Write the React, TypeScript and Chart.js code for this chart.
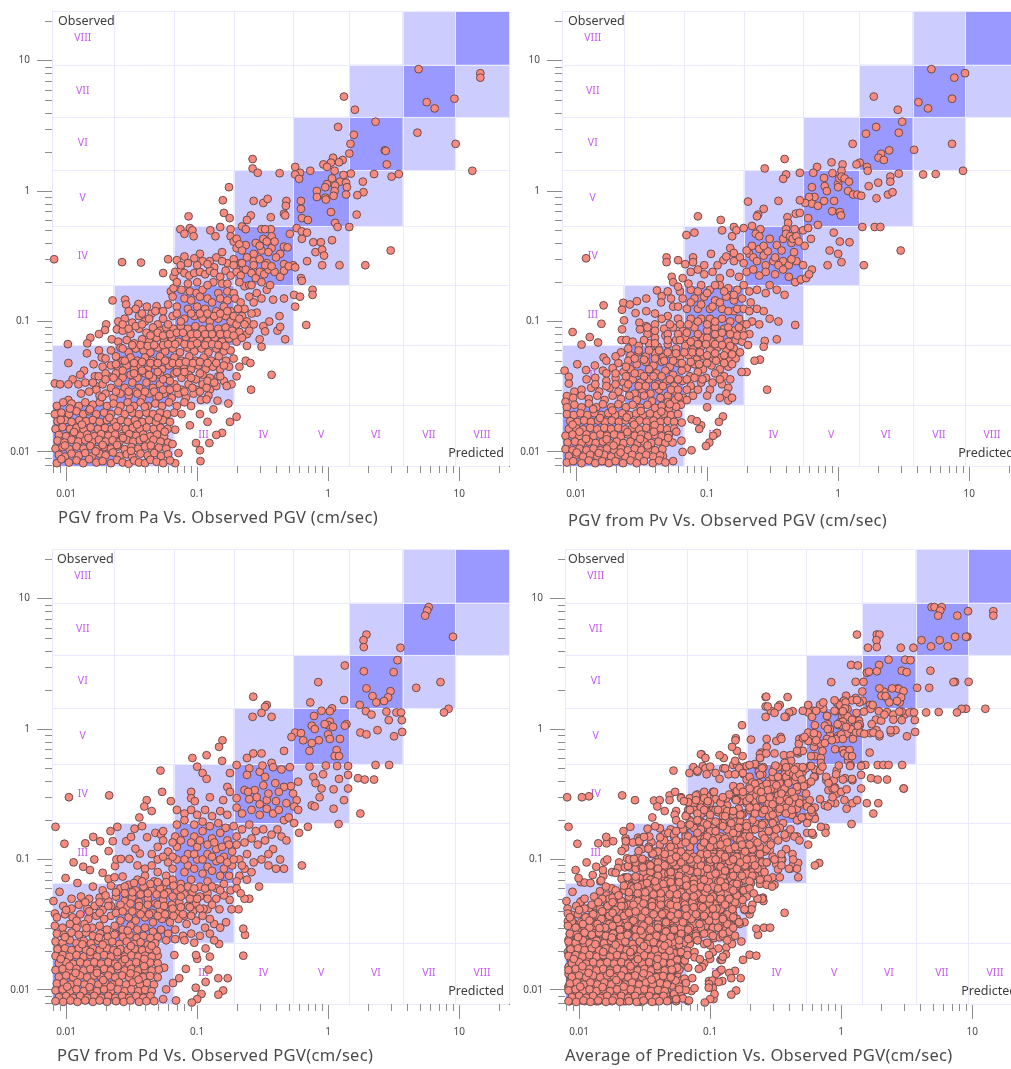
import React, { useEffect, useRef } from "react";
import { Chart, registerables } from "chart.js";
Chart.register(...registerables);

const bandEdges = [0.0078, 0.023, 0.066, 0.19, 0.54, 1.45, 3.7, 9.3, 24];
const romans = ["I", "II", "III", "IV", "V", "VI", "VII", "VIII"];
const majorTicks = [0.01, 0.1, 1, 10];
const minorTicks = [0.008, 0.009, 0.02, 0.03, 0.04, 0.05, 0.06, 0.07, 0.08, 0.09, 0.2, 0.3, 0.4, 0.5, 0.6, 0.7, 0.8, 0.9, 2, 3, 4, 5, 6, 7, 8, 9, 20];
const titles = ["PGV from Pa Vs. Observed PGV (cm/sec)", "PGV from Pv Vs. Observed PGV (cm/sec)", "PGV from Pd Vs. Observed PGV(cm/sec)", "Average of Prediction Vs. Observed PGV(cm/sec)"];

// predicted, observed pairs
const paPoints = [
4.9,8.6,14.5,8,14.5,7.4,1.32,5.3,5.65,4.8,6.5,4.3,9.2,5.1,1.6,4.2,2.3,3.4,1.19,3.1,1.57,2.7,4.8,2.8,9.4,2.3,1.48,2.3,2.7,2.05,2.75,2.03,1.45,1.94,2.8,1.6,12.6,1.43,1.09,1.8,1.29,1.73,1.21,1.66,1.05,1.65,.92,1.6,.98,1.53,.56,1.53,.265,1.76,.265,1.49,.29,1.38,.426,1.37,.73,1.43,.61,1.38,.56,1.34,.6,1.24,1.12,1.43,1.49,1.36,1.31,1.33,2.24,1.35,3.05,1.29,3.46,1.35,1.07,1.25,1.84,1.18,1.23,1.18,1.37,1.16,.98,1.13,1.13,1.1,1.39,1.07,.82,1,.95,1.07,1.12,1,1.37,.94,1.86,.98,1.67,.93,.82,.9,.95,.89,1.1,.92,.96,.86,
.175,1.07,.157,.85,.27,.84,.32,.81,.345,.87,.48,.84,.475,.77,.62,.84,.62,.73,.46,.67,1.05,.69,1.65,.66,.16,.68,.177,.62,.257,.65,.24,.6,.47,.65,.365,.63,.63,.62,.7,.6,.086,.64,1.13,.57,1.18,.53,1.45,.53,.0745,.51,.088,.52,.092,.5,.08,.47,.094,.45,.126,.5,.138,.45,.15,.53,.18,.51,.22,.535,.235,.51,.31,.51,.365,.51,.33,.51,.51,.47,.575,.52,.63,.49,.69,.48,.63,.43,.77,.405,.88,.405,1.07,.42,.8,.34,.9,.355,.93,.32,3,.35,.69,.29,.9,.27,1.22,.27,1.92,.27,
.0081,.3,.0267,.285,.0373,.283,.06,.3,.07,.295,.08,.315,.105,.33,.14,.31,.155,.34,.18,.45,.19,.41,.2,.365,.235,.385,.27,.33,.31,.35,.37,.365,.32,.43,.37,.45,.46,.375,.49,.37,.43,.33,.34,.28,.46,.275,.54,.27,.225,.255,.17,.28,.135,.26,.2,.43,.21,.39,.22,.35,.28,.4,.3,.38,.34,.41,.35,.34,.39,.41,.4,.31,.24,.31,.27,.29,.19,.3,.215,.28,.125,.29,.11,.29,.095,.305,.3,.3,
.055,.235,.066,.22,.068,.24,.075,.25,.08,.235,.087,.225,.095,.235,.105,.24,.115,.23,.125,.245,.135,.235,.15,.22,.165,.245,.18,.225,.2,.24,.215,.225,.235,.25,.26,.235,.28,.215,.3,.24,.325,.23,.35,.25,.39,.24,.43,.22,.46,.245,.62,.215,.63,.205,.27,.27,.33,.27,.37,.265,.22,.28,.19,.27,.155,.29,.12,.275,.1,.27,.085,.28,.5,.265,.56,.26,.075,.27,
.0226,.145,.0282,.147,.0287,.135,.0356,.136,.0413,.13,.049,.131,.063,.17,.066,.18,.076,.175,.088,.17,.099,.165,.11,.175,.133,.2,.145,.165,.17,.17,.19,.165,.23,.186,.25,.19,.285,.165,.34,.175,.38,.147,.46,.15,.55,.16,.61,.155,.76,.175,.76,.16,.56,.13,.425,.11,.355,.1,.68,.094,.47,.073,.41,.085,.43,.091,.32,.092,.33,.084,.3,.073,.31,.064,.24,.065,.23,.125,.285,.117,
.07,.2,.085,.195,.1,.2,.12,.19,.155,.195,.17,.195,.21,.2,.26,.19,.31,.2,.36,.19,.065,.155,.08,.15,.09,.145,.105,.155,.12,.15,.13,.14,.15,.15,.17,.145,.195,.15,.215,.14,.25,.155,.27,.14,.31,.15,.06,.135,.07,.13,.085,.125,.1,.13,.115,.125,.14,.12,.16,.13,.18,.12,.205,.125,.22,.11,.26,.115,.055,.12,.065,.11,.08,.105,.095,.11,.11,.105,.125,.1,.145,.105,.165,.11,.18,.1,.2,.095,.24,.1,.27,.095,
.0202,.095,.0198,.086,.0178,.08,.0153,.075,.0145,.068,.0103,.067,.0144,.057,.0104,.048,.0178,.06,.0187,.053,.0162,.047,.0137,.042,.0128,.039,.0112,.036,.0082,.0335,.009,.033,.0104,.033,.0124,.033,.014,.034,.0166,.038,.0177,.038,.0169,.032,.0104,.025,.0244,.087,.0223,.073,
.025,.1,.028,.105,.032,.098,.036,.11,.04,.1,.045,.115,.05,.095,.027,.085,.031,.08,.036,.088,.041,.082,.046,.09,.052,.085,.058,.09,.066,.088,.075,.092,.085,.088,.097,.092,.11,.087,.125,.09,.145,.088,.165,.09,.185,.085,.21,.083,.24,.08,.025,.07,.029,.072,.033,.068,.038,.073,.043,.07,.049,.075,.056,.071,.064,.075,.072,.07,.082,.076,.093,.072,.105,.075,.12,.071,.136,.075,.155,.07,.175,.074,.2,.07,
.022,.06,.026,.063,.03,.058,.034,.062,.039,.06,.044,.058,.05,.063,.057,.059,.065,.062,.074,.058,.084,.063,.095,.059,.108,.062,.122,.058,.14,.062,.16,.059,.18,.06,.02,.052,.024,.054,.027,.05,.031,.053,.035,.05,.04,.053,.045,.05,.052,.054,.059,.05,.067,.053,.076,.05,.087,.054,.098,.05,.112,.053,.128,.05,.146,.054,.166,.05,.19,.052,
.019,.045,.022,.046,.025,.043,.029,.046,.033,.043,.037,.046,.042,.043,.048,.046,.054,.043,.061,.046,.07,.043,.079,.046,.09,.043,.102,.046,.116,.043,.132,.045,.15,.043,.175,.045,.021,.038,.024,.04,.027,.037,.031,.039,.035,.037,.04,.04,.046,.037,.052,.039,.059,.037,.067,.04,.076,.037,.086,.039,.098,.036,.11,.039,.125,.037,.145,.038,.16,.035,.2,.038,.21,.045,.235,.05,.255,.048,.37,.039,.258,.03,
.017,.03,.019,.033,.022,.031,.025,.034,.028,.031,.032,.034,.036,.031,.041,.034,.046,.031,.052,.033,.059,.03,.067,.033,.076,.03,.086,.033,.098,.03,.11,.033,.125,.03,.14,.032,.183,.033,.168,.032,.013,.028,.015,.029,.018,.027,.02,.028,.023,.026,.026,.028,.03,.027,.034,.029,.038,.026,.043,.028,.049,.026,.056,.028,.064,.026,.072,.028,.082,.026,.094,.028,.107,.025,.122,.027,.143,.0247,.173,.0235,
.0085,.0225,.0095,.024,.011,.0235,.0125,.0225,.014,.024,.016,.023,.018,.024,.0205,.0225,.023,.0235,.026,.0225,.0295,.024,.033,.0225,.037,.024,.042,.0225,.048,.0235,.054,.0225,.061,.024,.07,.0225,.08,.024,.09,.0225,.105,.0195,.118,.0253,.133,.0212,.2,.0186,.178,.017,.12,.017,.155,.014,.14,.0135,.124,.0117,.105,.0103,.098,.0117,.106,.0085,.072,.0098,.068,.0082,.088,.016,
.0082,.0195,.0092,.02,.0105,.0195,.012,.0205,.0135,.0195,.015,.0205,.017,.0195,.0195,.02,.022,.0195,.025,.0205,.028,.0195,.032,.02,.036,.0195,.041,.02,.046,.0195,.052,.02,.059,.0195,.067,.02,.076,.0195,.0086,.0172,.0098,.0175,.011,.017,.0126,.0175,.0142,.0172,.016,.0176,.018,.017,.0205,.0175,.0232,.017,.0262,.0175,.0295,.017,.0335,.0175,.038,.017,.043,.0175,.0485,.017,.055,.0175,.062,.017,.0083,.015,.0094,.0155,.0107,.015,.012,.0153,.0136,.0149,.0154,.0154,.0175,.015,.0198,.0153,.0223,.015,.0252,.0154,.0285,.015,.0322,.0153,.0365,.015,.0412,.0154,.0465,.015,.0525,.0153,.0595,.015,.068,.0148,
.0088,.0135,.01,.0132,.0113,.0137,.0128,.0133,.0145,.0136,.0164,.0132,.0185,.0137,.021,.0133,.0237,.0136,.0268,.0132,.0303,.0137,.0343,.0133,.0388,.0136,.0438,.0132,.0495,.0136,.056,.0132,.0086,.0122,.0097,.0118,.011,.0124,.0124,.012,.014,.0123,.0158,.0119,.0178,.0124,.02,.012,.0226,.0123,.0255,.0119,.029,.0124,.0325,.012,.0365,.0123,.041,.0119,.0465,.0124,.0525,.012,.06,.0118,
.0083,.0106,.0094,.0109,.0106,.0105,.012,.011,.0136,.0106,.0153,.0111,.0172,.0105,.0195,.0109,.022,.0106,.0248,.011,.028,.0105,.0315,.0109,.0355,.0106,.04,.011,.045,.0105,.051,.0108,.058,.0106,.0088,.0095,.0098,.0092,.011,.0097,.0125,.0094,.014,.0098,.0158,.0093,.018,.0097,.02,.0094,.0228,.0099,.0256,.0093,.029,.0096,.032,.0092,.037,.0097,.042,.0094,.047,.0098,.053,.0093,.06,.0096,
.0085,.0082,.0092,.0088,.0105,.0083,.012,.0086,.0135,.0082,.015,.0088,.017,.0083,.019,.0085,.022,.0082,.0245,.0087,.027,.0083,.03,.0081,.033,.0086,.036,.0083,.04,.0082,.044,.0087,.049,.0084,.055,.0082,.062,.0086,
.03,.12,.034,.125,.038,.115,.043,.105,.048,.12,.055,.105,.06,.095,.07,.115,.075,.1,.09,.115,.105,.115,.12,.115,.135,.11,.15,.115,.17,.12,.19,.11,.21,.105,.25,.085,.23,.095,.027,.095,.03,.088,.034,.092,.038,.095,.044,.078,.05,.082,.055,.078,.062,.08,.07,.082,.078,.082,.09,.08,.1,.08,.115,.08,.13,.08,.15,.08,.17,.08,.19,.078,.22,.075,.027,.062,.032,.066,.037,.066,.042,.065,.047,.066,.055,.066,.06,.067,.068,.067,.08,.067,.09,.066,.1,.068,.115,.066,.13,.067,.145,.066,.165,.065,.024,.047,.028,.05,.033,.048,.038,.049,.044,.048,.05,.048,.057,.05,.065,.048,.073,.048,.082,.049,.093,.048,.105,.049,.12,.048,.14,.048,.16,.046,.02,.04,.023,.037,.027,.042,.033,.04,.038,.042,.043,.039,.05,.041,.055,.036,.062,.035,.07,.041,.08,.041,.09,.037,.105,.04,.12,.035,.135,.034,.15,.038,.016,.034,.02,.036,.024,.029,.03,.029,.035,.028,.04,.029,.047,.029,.055,.03,.062,.03,.07,.031,.08,.029,.092,.031,.105,.029,.118,.031,
.0091,.0176,.0115,.0142,.0148,.0128,.019,.0113,.0241,.0157,.0307,.0214,.0392,.0128,.0501,.0183,.0098,.0112,.0132,.0162,.0168,.0101,.0214,.0183,.0272,.0128,.0348,.0162,.0443,.0112,.0566,.0143,.0107,.0215,.0152,.0212,.0188,.0263,.0245,.0113,.0313,.0102,.0398,.0222,.0512,.0267,.0649,.0115];

const pvPoints = [
5.15,8.6,7.7,7.4,9.3,8,1.87,5.3,2.85,4.2,4.1,4.8,4.85,4.3,7.4,5.1,3.08,3.4,1.95,3.1,1.63,2.75,2.9,2.8,1.29,2.3,7.4,2.3,3.8,2.07,2.45,2.05,2.13,1.93,2.03,1.8,2.23,1.73,1.66,1.53,1.46,1.65,1.38,1.6,.89,1.66,1.08,1.6,.69,1.53,1.06,1.43,.645,1.38,.51,1.38,.39,1.76,.275,1.49,.4,1.34,.38,1.24,.905,1.37,1.68,1.43,2.9,1.36,2.5,1.29,2.5,1.18,4.45,1.34,5.55,1.35,8.97,1.43,2.02,1.16,1.71,1.09,.78,1.26,.63,1.07,.79,1.09,.82,1,1,1.14,1.02,1.25,1.06,1.29,1.12,1.25,1.21,1.18,1,1.07,1.19,1,1.3,.94,1.4,.94,1.5,.92,1.96,.88,2.4,.94,2.6,.98,
.66,.9,.6,.9,.63,.8,.56,.81,.51,.85,.7,.77,.78,.84,.93,.84,.205,.83,.35,.84,.27,.73,.245,.66,.24,.64,.475,.67,.51,.68,.9,.7,1.03,.69,1.05,.65,.41,.63,.59,.62,.415,.57,.7,.55,.085,.64,.127,.6,1.53,.53,1.9,.53,2.1,.53,.0695,.46,.08,.48,.13,.5,.16,.53,.167,.5,.19,.52,.22,.54,.255,.51,.155,.45,.235,.47,.25,.45,.4,.51,.465,.51,.54,.5,.59,.52,.62,.43,.555,.38,.38,.43,.44,.4,.925,.48,1.03,.41,1.22,.405,.86,.35,1,.33,1.06,.285,.83,.27,1.57,.27,3,.35,
.15,.365,.3,.43,.34,.385,.37,.35,.46,.34,.0119,.305,.049,.31,.049,.285,.06,.295,.068,.275,.078,.31,.078,.285,.107,.33,.133,.295,.14,.315,.16,.335,.178,.31,.21,.33,.225,.31,.27,.32,.29,.345,.32,.29,.38,.29,.48,.29,.54,.27,.63,.25,.4,.47,.43,.45,.45,.43,.48,.45,.5,.41,.22,.38,.25,.36,.2,.35,.27,.38,.24,.29,.28,.27,.33,.31,.42,.27,.44,.3,.35,.27,.19,.28,.16,.29,.12,.27,.095,.27,
.0536,.22,.0162,.133,.0156,.096,.0094,.083,.0127,.076,.0147,.069,.011,.0665,.0229,.139,.0257,.135,.0291,.143,.0343,.15,.0414,.173,.045,.156,.0445,.14,.0224,.123,.0284,.116,.0343,.12,.0232,.102,.0304,.098,.0343,.092,.0224,.087,.0222,.072,.0242,.072,.0307,.087,.47,.094,.287,.03,.253,.051,.23,.05,.2,.041,.183,.041,.35,.1,.34,.073,.275,.071,.27,.064,.145,.0248,.132,.0187,.123,.017,.09,.016,.1,.022,.076,.0178,.087,.015,.119,.014,.111,.0133,.104,.0118,.098,.0111,.076,.0103,.0637,.0122,.065,.01,.055,.0085,.046,.0093,.00816,.042,.0088,.0377,.0088,.0334,.0102,.047,.0119,.0424,.0139,.046,.0162,.053,.0097,.029,.0085,.0268,.0083,.0242,
.055,.2,.065,.215,.075,.24,.085,.25,.095,.23,.11,.24,.125,.215,.15,.235,.175,.22,.2,.24,.225,.25,.25,.225,.28,.24,.33,.23,.38,.25,.42,.22,.47,.2,.52,.21,.57,.215,.6,.23,.3,.19,.34,.175,.39,.16,.28,.165,.24,.175,.21,.17,.19,.19,.17,.175,.145,.18,.125,.19,.105,.175,.09,.19,.075,.175,.062,.17,.053,.15,.065,.15,.08,.15,.095,.155,.115,.145,.14,.155,.16,.145,.185,.15,.215,.14,.24,.125,.27,.12,.3,.105,.25,.095,.22,.1,.19,.095,.16,.12,.13,.125,.105,.125,.085,.125,.07,.125,.055,.13,.05,.11,.06,.105,.075,.105,.09,.105,.105,.105,.15,.1,.175,.105,
.04,.095,.047,.088,.055,.09,.065,.085,.08,.09,.1,.085,.115,.09,.135,.088,.16,.085,.185,.085,.21,.08,.035,.08,.04,.075,.048,.078,.058,.072,.068,.076,.08,.072,.093,.075,.108,.07,.125,.074,.145,.07,.165,.072,.185,.07,.205,.066,.03,.065,.036,.068,.042,.064,.05,.067,.058,.062,.068,.065,.078,.061,.09,.064,.105,.06,.12,.063,.14,.059,.16,.062,.178,.058,
.022,.058,.026,.055,.03,.058,.034,.054,.04,.057,.046,.053,.053,.056,.062,.052,.072,.055,.083,.051,.095,.054,.11,.05,.128,.053,.148,.05,.165,.052,.017,.05,.021,.048,.025,.05,.029,.047,.034,.049,.039,.046,.045,.049,.052,.045,.06,.048,.07,.044,.08,.047,.093,.043,.108,.046,.125,.043,.145,.045,.016,.042,.019,.044,.023,.041,.026,.043,.031,.04,.036,.043,.041,.04,.048,.042,.055,.039,.064,.042,.074,.038,.085,.041,.098,.037,.115,.04,.135,.038,.15,.036,
.012,.036,.014,.037,.017,.035,.02,.037,.023,.034,.027,.036,.031,.034,.036,.036,.042,.033,.049,.035,.056,.032,.065,.035,.075,.032,.09,.034,.105,.03,.13,.033,.145,.031,.14,.028,.155,.026,.011,.03,.013,.031,.015,.029,.018,.031,.021,.029,.024,.031,.028,.028,.032,.03,.037,.028,.043,.03,.05,.027,.057,.029,.066,.026,.078,.027,.125,.026,.0095,.026,.011,.027,.0125,.0255,.0145,.027,.0165,.025,.019,.027,.022,.0255,.0255,.027,.029,.025,.033,.027,.038,.0245,.044,.026,.05,.024,.057,.025,.063,.023,.07,.025,
.0085,.022,.0097,.023,.011,.022,.0125,.0235,.0143,.022,.016,.0232,.0185,.022,.021,.0232,.024,.022,.027,.023,.031,.0218,.035,.023,.04,.0218,.045,.0225,.051,.0215,.058,.0222,.0085,.0195,.0096,.0192,.0108,.0198,.0122,.0192,.0138,.0198,.0156,.0192,.0176,.0198,.0199,.0192,.0225,.0198,.0254,.0192,.0287,.0197,.0324,.0192,.0366,.0197,.0414,.0192,.0468,.0196,.0529,.0192,.0598,.0195,.0835,.0172,.009,.0172,.0102,.017,.0115,.0174,.013,.017,.0147,.0174,.0166,.017,.0187,.0174,.0212,.017,.0239,.0174,.027,.017,.0305,.0174,.0345,.017,.039,.0174,.044,.017,.05,.0173,.056,.017,.064,.0168,
.0088,.015,.01,.0152,.0113,.0149,.0128,.0153,.0145,.0149,.0164,.0153,.0185,.015,.021,.0153,.0237,.0149,.0268,.0153,.0303,.0149,.0343,.0153,.0388,.015,.0438,.0152,.0495,.0149,.056,.0151,.0083,.0133,.0094,.0136,.0106,.0132,.012,.0136,.0136,.0132,.0153,.0136,.0172,.0133,.0195,.0136,.022,.0132,.0248,.0136,.028,.0133,.0315,.0136,.0355,.0132,.04,.0135,.045,.0132,.051,.0135,.0086,.0118,.0098,.012,.011,.0117,.0125,.012,.0141,.0117,.016,.012,.018,.0117,.0204,.012,.023,.0117,.026,.012,.0295,.0117,.033,.012,.0375,.0117,.0425,.012,.048,.0117,.0545,.0118,
.0083,.0105,.0094,.0103,.0106,.0106,.012,.0103,.0136,.0106,.0153,.0103,.0172,.0106,.0195,.0103,.022,.0106,.0248,.0103,.028,.0106,.0315,.0103,.0355,.0106,.04,.0103,.0455,.0105,.0088,.0093,.01,.0095,.0113,.0092,.0128,.0095,.0145,.0092,.0164,.0095,.0185,.0092,.021,.0095,.0237,.0092,.0268,.0095,.0303,.0092,.0343,.0095,.0388,.0092,.0438,.0094,.0085,.0083,.0095,.0085,.011,.0082,.0125,.0086,.014,.0082,.0158,.0085,.0178,.0082,.02,.0085,.0228,.0082,.026,.0086,.029,.0082,.033,.0085,.0385,.0082,.043,.0086,.048,.0083,
.05,.17,.06,.185,.072,.195,.085,.17,.1,.165,.115,.19,.135,.17,.16,.16,.06,.13,.075,.14,.09,.135,.11,.13,.125,.14,.145,.12,.17,.125,.19,.125,.21,.12,.04,.115,.045,.105,.052,.095,.062,.095,.072,.095,.085,.1,.1,.095,.115,.1,.13,.105,.145,.09,.175,.09,.2,.095,.035,.09,.04,.085,.05,.08,.06,.08,.07,.082,.085,.08,.1,.075,.115,.08,.13,.082,.15,.08,.17,.078,.19,.078,.027,.07,.033,.072,.04,.068,.05,.072,.062,.072,.075,.07,.085,.067,.098,.067,.115,.067,.13,.066,.15,.065,.025,.062,.03,.06,.036,.06,.043,.06,.05,.058,.058,.057,.067,.058,.077,.058,.088,.058,.1,.055,.115,.057,.135,.055,.155,.056,.02,.054,.024,.045,.028,.052,.033,.051,.04,.052,.047,.05,.055,.05,.064,.048,.075,.049,.087,.047,.1,.048,.117,.05,.135,.048,.155,.047,.017,.04,.02,.04,.024,.038,.028,.04,.033,.038,.039,.038,.045,.038,.052,.036,.06,.036,.07,.036,.08,.037,.092,.036,.11,.034,.125,.036,.014,.033,.017,.032,.02,.033,.025,.033,.03,.032,.034,.032,.04,.032,.046,.032,.053,.03,.06,.03,.07,.03,.085,.03,.1,.027,
.0094,.0162,.0119,.0126,.0152,.0182,.0193,.0112,.0246,.0142,.0312,.0206,.0397,.0161,.0504,.0128,.0101,.0099,.0135,.0213,.0171,.0125,.0218,.0099,.0277,.0162,.0351,.0112,.0447,.0204,.0582,.0143,.0106,.0143,.0149,.0098,.0189,.0208,.0243,.0184,.0308,.0126,.0392,.0143,.0518,.0232,.0605,.0265];

const pdPoints = [
5.85,8.6,5.7,8.1,5.5,7.4,1.96,5.3,1.86,4.8,1.87,4.25,8.97,5.1,3.56,4.2,3.38,3.37,1.34,3.07,1.87,2.77,3.16,2.73,.84,2.29,7.2,2.29,4.7,2.07,1.96,2.05,2.99,1.95,2.87,1.75,2.18,1.79,2.67,1.64,2.33,1.6,1.32,1.67,.73,1.6,1.74,1.53,1.94,1.37,2.14,1.29,2.78,1.36,3.32,1.34,3.6,1.34,2.9,1.17,3.65,1.17,8.3,1.43,7.65,1.34,1.07,1.44,1.03,1.37,.89,1.38,.78,1.26,.268,1.77,.34,1.53,.33,1.48,.31,1.33,.265,1.24,.37,1.24,.75,1.06,.79,1,1.03,1.14,1,1.07,.94,1.09,1.09,1.04,1.38,1.09,1.34,1.06,1.76,.94,1.96,.91,2.38,.98,3.18,.88,3.67,.95,.56,.94,.62,.93,.525,.87,.645,.82,.75,.78,.85,.82,1,.91,1.03,.84,1.23,.84,.46,.68,.72,.68,1.16,.69,1.12,.62,1.21,.62,.156,.82,.147,.73,.155,.57,.118,.63,.092,.6,.31,.65,.268,.65,.24,.6,2.3,.53,2.92,.53,1.42,.52,1.17,.52,.96,.525,.72,.515,.51,.51,.44,.49,.2,.53,.1,.515,.11,.46,.118,.415,.178,.46,.25,.5,.24,.445,.3,.47,.315,.525,.37,.55,.38,.51,.33,.43,.0525,.48,.054,.33,.0412,.285,.063,.28,.0105,.3,.0213,.31,1.69,.42,1.9,.41,2.24,.41,1.42,.445,1.21,.415,1.42,.35,1.1,.345,1.32,.285,.89,.35,.77,.43,.915,.45,.8,.385,.86,.3,.75,.26,.59,.395,.52,.365,.46,.36,.395,.385,.32,.37,.275,.34,.23,.34,.245,.33,.17,.36,.178,.33,.285,.3,.34,.285,.4,.28,.54,.32,.575,.285,.09,.33,.09,.295,.096,.28,.125,.3,.158,.285,.2,.295,.35,.32,.42,.33,.25,.29,.3,.265,.48,.27,.55,.255,
1.76,.225,1.2,.187,.7,.178,.63,.09,.297,.062,.6,.16,1.1,.245,.79,.255,.59,.24,.0083,.178,.0097,.132,.0114,.095,.0099,.072,.0122,.066,.0089,.0565,.008,.048,.0082,.0385,.0135,.088,.0152,.083,.0164,.1,.014,.133,.0161,.149,.0182,.138,.0211,.116,.0227,.138,.019,.079,.0211,.071,.0234,.073,.027,.074,.0236,.089,.0242,.1,.0262,.101,.0304,.101,.0365,.111,.0338,.121,.0287,.138,.0313,.149,.0333,.172,.0246,.178,.0218,.165,.038,.18,.0415,.148,.048,.16,.053,.155,.0362,.21,.0395,.255,.045,.235,
.225,.0183,.232,.0264,.225,.0295,.207,.0415,.25,.05,.23,.05,.177,.049,.183,.0415,.166,.033,.148,.0415,.12,.0415,.147,.0225,.116,.0208,.125,.018,.1,.0173,.122,.0143,.145,.0123,.171,.0123,.158,.0099,.145,.0092,.116,.0115,.0975,.0104,.108,.0093,.1,.0085,.091,.008,.069,.0083,.055,.0085,.082,.0145,.073,.0123,.0655,.0113,.058,.0101,.067,.0185,.098,.0185,.056,.0148,.05,.0183,
.07,.24,.08,.225,.09,.24,.1,.22,.115,.24,.13,.215,.15,.235,.17,.22,.2,.25,.22,.225,.26,.24,.3,.22,.34,.245,.38,.225,.42,.24,.46,.2,.5,.21,.55,.19,.07,.185,.08,.2,.095,.185,.11,.195,.125,.18,.145,.19,.165,.175,.19,.18,.22,.17,.25,.185,.28,.165,.32,.17,.37,.155,.41,.17,.44,.15,.48,.14,.055,.165,.068,.15,.08,.16,.095,.15,.11,.165,.13,.145,.15,.16,.17,.14,.2,.15,.23,.135,.26,.145,.29,.13,.33,.14,.38,.12,.43,.1,.46,.085,.4,.085,.35,.11,
.05,.125,.06,.115,.07,.125,.085,.11,.1,.125,.12,.11,.14,.12,.16,.105,.185,.115,.21,.1,.24,.11,.27,.095,.31,.1,.35,.09,.26,.08,.23,.085,.21,.075,.24,.07,.05,.1,.06,.095,.07,.1,.085,.09,.1,.1,.12,.088,.14,.097,.16,.085,.185,.09,.065,.085,.08,.08,.095,.085,.11,.078,.13,.082,.15,.075,.175,.075,.2,.068,.035,.09,.04,.085,.045,.09,.05,.08,.058,.075,.035,.07,.04,.075,.047,.068,.055,.062,.065,.07,.075,.065,.09,.07,.105,.062,.12,.068,.14,.06,.16,.065,.18,.058,.2,.06,.215,.055,
.016,.062,.019,.058,.022,.063,.026,.06,.03,.064,.034,.058,.039,.062,.045,.058,.052,.06,.06,.056,.07,.058,.08,.054,.092,.056,.105,.052,.12,.055,.14,.05,.16,.053,.011,.05,.013,.052,.015,.05,.018,.051,.021,.048,.024,.052,.028,.048,.032,.051,.036,.047,.042,.05,.048,.046,.055,.049,.064,.045,.073,.047,.085,.044,.098,.046,.112,.042,.13,.045,
.0095,.044,.011,.042,.0125,.045,.0145,.042,.0165,.044,.019,.041,.022,.044,.025,.041,.029,.043,.034,.04,.039,.042,.045,.039,.052,.041,.06,.038,.07,.04,.08,.037,.093,.04,.0085,.036,.0098,.038,.0112,.036,.0128,.038,.0148,.035,.017,.037,.0195,.035,.022,.037,.026,.034,.03,.036,.034,.034,.04,.036,.046,.033,.054,.035,.062,.033,.072,.035,.083,.032,.098,.034,.115,.03,.135,.032,.15,.03,
.0082,.031,.0094,.03,.0107,.032,.012,.03,.0138,.032,.0158,.03,.018,.031,.0205,.029,.0235,.031,.027,.029,.031,.031,.035,.029,.04,.03,.046,.028,.053,.029,.06,.027,.068,.029,.078,.026,.09,.027,.105,.026,.125,.027,.135,.024,.0085,.027,.0096,.0265,.011,.0275,.0125,.0265,.0142,.0275,.016,.026,.0182,.027,.0208,.0255,.0237,.027,.027,.0255,.0305,.0265,.0345,.025,.039,.026,.044,.025,.05,.0255,.058,.024,.068,.0245,.08,.024,.095,.023,
.0083,.0235,.0094,.023,.0107,.024,.012,.0228,.0136,.0238,.0155,.0228,.0175,.0238,.02,.0228,.0225,.0235,.0255,.0225,.029,.0235,.033,.0225,.037,.0232,.042,.0222,.0478,.0228,.0086,.0205,.0098,.0208,.011,.0202,.0125,.0208,.0142,.0202,.016,.0208,.018,.0202,.0205,.0208,.023,.0202,.026,.0206,.0295,.0202,.0335,.0206,.038,.0202,.043,.0205,.049,.02,.0083,.0182,.0094,.0185,.0106,.018,.012,.0185,.0136,.018,.0153,.0185,.0172,.018,.0195,.0185,.022,.018,.0248,.0184,.028,.018,.0315,.0184,.0355,.018,.04,.0183,.045,.018,.0088,.016,.01,.0163,.0113,.0159,.0128,.0163,.0145,.0159,.0164,.0163,.0185,.0159,.021,.0163,.0237,.0159,.0268,.0163,.0303,.0159,.0343,.0163,.0388,.0159,.0438,.0162,.05,.016,
.0083,.0142,.0094,.0145,.0106,.0141,.012,.0145,.0136,.0141,.0153,.0145,.0172,.0141,.0195,.0145,.022,.0141,.0248,.0145,.028,.0141,.0315,.0145,.0355,.0141,.04,.0144,.045,.0141,.051,.0143,.0088,.0126,.01,.0129,.0113,.0125,.0128,.0129,.0145,.0125,.0164,.0129,.0185,.0125,.021,.0129,.0237,.0125,.0268,.0129,.0303,.0125,.0343,.0129,.0388,.0125,.0438,.0128,.05,.0125,.0085,.0112,.0096,.0114,.0108,.011,.0122,.0114,.0138,.011,.0156,.0114,.0176,.011,.0199,.0114,.0225,.011,.0254,.0114,.0287,.011,.0324,.0114,.0366,.011,.0414,.0113,.0468,.011,.0083,.0099,.0094,.0101,.0107,.0098,.012,.0101,.0136,.0098,.0153,.0101,.0172,.0098,.0195,.0101,.022,.0098,.0248,.0101,.028,.0098,.0315,.0101,.0355,.0098,.04,.01,.045,.0098,
.0088,.0088,.01,.009,.0113,.0087,.0128,.009,.0145,.0087,.0164,.009,.0185,.0087,.021,.009,.0237,.0087,.0268,.009,.0303,.0087,.0343,.009,.0388,.0087,.044,.009,.0083,.0082,.0095,.0081,.0108,.0083,.0122,.0081,.014,.0083,.016,.0081,.018,.0083,.0205,.0081,.024,.0082,.0275,.0081,.031,.0083,.036,.0081,.041,.0082,.047,.0082,
.055,.14,.065,.135,.075,.14,.09,.135,.105,.14,.12,.13,.135,.135,.155,.125,.175,.13,.2,.13,.045,.11,.055,.105,.065,.105,.08,.1,.095,.11,.11,.1,.13,.105,.15,.1,.17,.095,.19,.1,.22,.09,.028,.062,.033,.066,.038,.068,.044,.065,.05,.067,.058,.067,.066,.063,.075,.06,.085,.062,.095,.06,.115,.06,.13,.062,.15,.058,.02,.053,.024,.056,.028,.055,.032,.056,.037,.054,.042,.055,.049,.054,.056,.054,.065,.052,.075,.052,.088,.05,.1,.05,.12,.05,.01,.041,.014,.047,.018,.047,.021,.044,.026,.045,.031,.046,.036,.044,.042,.045,.05,.045,.056,.044,.065,.042,.075,.043,.088,.043,.105,.042,.012,.034,.015,.04,.018,.039,.024,.039,.027,.04,.032,.04,.037,.038,.043,.038,.05,.037,.057,.038,.066,.037,.078,.038,.09,.037,.11,.037,.125,.035,
.0091,.0173,.0118,.0135,.0153,.0196,.0192,.0119,.0247,.0152,.0312,.0217,.0396,.0173,.0102,.0106,.0133,.0224,.0172,.0135,.0219,.0106,.0281,.0172,.0357,.012,.0449,.0218,.0106,.0152,.0151,.0105,.019,.0222,.0246,.0195,.031,.0134,.0394,.0152,.0098,.0254,.0143,.0298,.0178,.0252,.0234,.0265,.0295,.0285];

const avgPoints = [...paPoints, ...pvPoints, ...pdPoints];
const seriesList = [paPoints, pvPoints, pdPoints, avgPoints];

const toXY = (flat: number[]) => {
  const out: { x: number; y: number }[] = [];
  for (let i = 0; i + 1 < flat.length; i += 2) out.push({ x: flat[i], y: flat[i + 1] });
  return out;
};

const axisFont = '"Noto Sans", sans-serif';
const axisGrey = "#8c8c8c";

const panelLeft = [0, 510, 0, 513];
const panelTop = [0, 0, 538, 538];
const observedShift = [6, 6, 5, 3];
const titleShift = [6, 6, 5, 0];
const titleDrop = [52, 55, 52, 52];

function makePlugin(index: number) {
  return {
    id: "mercalli",
    beforeDatasetsDraw(chart: any) {
      const { ctx, chartArea: a, scales } = chart;
      const sx = scales.x;
      const sy = scales.y;
      ctx.save();
      for (let i = 0; i < 8; i++) {
        for (let j = 0; j < 8; j++) {
          const d = Math.abs(i - j);
          if (d > 1) continue;
          ctx.fillStyle = d === 0 ? "#9999ff" : "#ccccff";
          const x0 = sx.getPixelForValue(bandEdges[i]);
          const x1 = sx.getPixelForValue(bandEdges[i + 1]);
          const y0 = sy.getPixelForValue(bandEdges[j + 1]);
          const y1 = sy.getPixelForValue(bandEdges[j]);
          ctx.fillRect(x0, y0, x1 - x0, y1 - y0);
        }
      }
      ctx.strokeStyle = "#e9e9ff";
      ctx.lineWidth = 1;
      bandEdges.forEach((v) => {
        const px = Math.round(sx.getPixelForValue(v)) + 0.5;
        const py = Math.round(sy.getPixelForValue(v)) + 0.5;
        ctx.beginPath();
        ctx.moveTo(px, a.top);
        ctx.lineTo(px, a.bottom);
        ctx.moveTo(a.left, py);
        ctx.lineTo(a.right, py);
        ctx.stroke();
      });
      ctx.fillStyle = "#c45cf0";
      ctx.font = `10.5px ${axisFont}`;
      ctx.textAlign = "center";
      ctx.textBaseline = "middle";
      romans.forEach((r, i) => {
        const cx = Math.sqrt(bandEdges[i] * bandEdges[i + 1]);
        if (i >= 1) {
          ctx.fillText(r, sx.getPixelForValue(Math.sqrt(bandEdges[0] * bandEdges[1])), sy.getPixelForValue(cx));
          ctx.fillText(r, sx.getPixelForValue(cx), sy.getPixelForValue(Math.sqrt(bandEdges[0] * bandEdges[1])));
        }
      });
      ctx.restore();
    },
    afterDraw(chart: any) {
      const { ctx, chartArea: a, scales } = chart;
      ctx.save();
      ctx.strokeStyle = axisGrey;
      ctx.lineWidth = 1;
      minorTicks.forEach((v) => {
        const px = Math.round(scales.x.getPixelForValue(v)) + 0.5;
        const py = Math.round(scales.y.getPixelForValue(v)) + 0.5;
        ctx.beginPath();
        ctx.moveTo(px, a.bottom);
        ctx.lineTo(px, a.bottom + 7);
        ctx.moveTo(a.left, py);
        ctx.lineTo(a.left - 7, py);
        ctx.stroke();
      });
      ctx.fillStyle = "#3c3c3c";
      ctx.font = `12.5px ${axisFont}`;
      ctx.textBaseline = "middle";
      ctx.textAlign = "left";
      ctx.fillText("Observed", a.left + observedShift[index], a.top + 10);
      ctx.textAlign = "right";
      ctx.fillText("Predicted", a.left + 452, a.bottom - 13);
      ctx.textAlign = "left";
      ctx.fillStyle = "#4a4a4a";
      ctx.font = `16.5px ${axisFont}`;
      (ctx as any).letterSpacing = "0.33px";
      ctx.fillText(titles[index], a.left + titleShift[index], a.bottom + titleDrop[index]);
      ctx.restore();
    },
  };
}

const tickList = () =>
  [...majorTicks.map((value) => ({ value, major: true })), ...minorTicks.map((value) => ({ value, major: false }))].sort((p, q) => p.value - q.value);

function axis(extra: any) {
  return {
    type: "logarithmic",
    min: bandEdges[0],
    max: bandEdges[8],
    afterBuildTicks: (s: any) => {
      s.ticks = tickList();
    },
    grid: {
      drawOnChartArea: false,
      drawTicks: true,
      tickLength: 15,
      tickColor: (c: any) => (c.tick && c.tick.major ? axisGrey : "rgba(0,0,0,0)"),
    },
    border: { display: true, color: axisGrey, width: 1 },
    ticks: {
      autoSkip: false,
      maxRotation: 0,
      minRotation: 0,
      padding: 7,
      color: "#4a4a4a",
      font: { family: axisFont, size: 10 },
      callback: (v: number) => (majorTicks.includes(v) ? String(v) : ""),
    },
    ...extra,
  };
}

function Panel({ index }: { index: number }) {
  const ref = useRef<HTMLCanvasElement>(null);
  useEffect(() => {
    const chart = new Chart(ref.current as HTMLCanvasElement, {
      type: "scatter",
      data: {
        datasets: [
          {
            data: toXY(seriesList[index]),
            backgroundColor: "#f98a80",
            borderColor: "#6a4c4c",
            borderWidth: 1,
            pointRadius: 3.9,
            clip: false,
          } as any,
        ],
      },
      options: {
        animation: false,
        responsive: false,
        layout: { padding: { left: 0, top: 11, right: 16, bottom: 0 } },
        plugins: { legend: { display: false }, tooltip: { enabled: false }, title: { display: false } },
        scales: {
          x: axis({ afterFit: (s: any) => { s.height = 69; s.paddingLeft = 0; s.paddingRight = 0; } }),
          y: axis({ afterFit: (s: any) => { s.width = 52; s.paddingTop = 0; s.paddingBottom = 0; } }),
        },
      } as any,
      plugins: [makePlugin(index)],
    });
    return () => chart.destroy();
  }, [index]);
  return (
    <canvas
      ref={ref}
      width={525}
      height={535}
      style={{ position: "absolute", left: panelLeft[index], top: panelTop[index], filter: "blur(0.6px)" }}
    />
  );
}

export default function App() {
  return (
    <div style={{ position: "absolute", left: 0, top: 0, width: 1011, height: 1069, overflow: "hidden", background: "#fff" }}>
      {[0, 1, 2, 3].map((i) => (
        <Panel key={i} index={i} />
      ))}
    </div>
  );
}
